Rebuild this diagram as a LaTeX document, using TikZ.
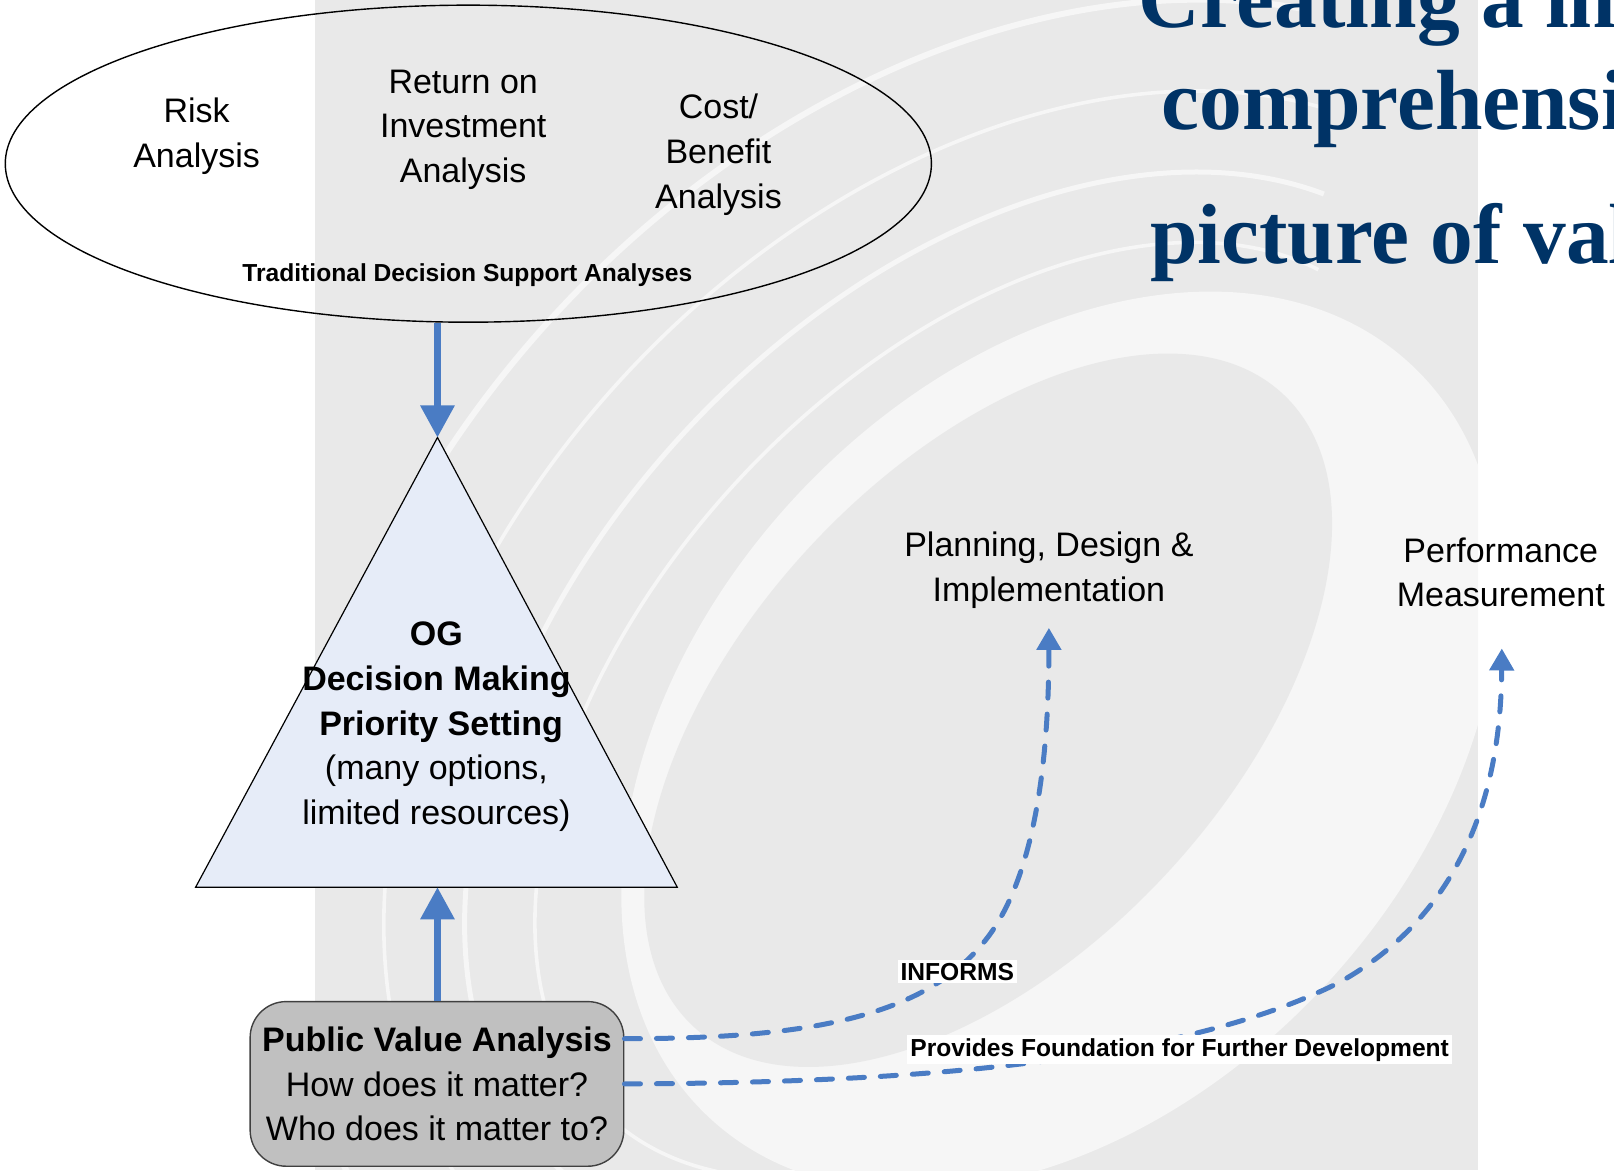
\documentclass[tikz,border=0pt]{standalone}
\usepackage{fontspec}
\setmainfont{Liberation Sans}
\newfontfamily\titlefont{Liberation Serif}
\usetikzlibrary{shapes.geometric,arrows.meta}
\definecolor{bggrey}{RGB}{233,233,233}
\definecolor{ringwhite}{RGB}{246,246,246}
\definecolor{arrowblue}{RGB}{74,124,196}
\definecolor{trifill}{RGB}{230,236,248}
\definecolor{boxfill}{RGB}{192,192,192}
\definecolor{titleblue}{RGB}{0,51,102}
\begin{document}
\begin{tikzpicture}[x=0.5146pt,y=-0.5146pt,
  big/.style={font=\fontsize{17}{22.4}\selectfont, align=center, inner sep=0pt},
  smalllabel/.style={font=\bfseries\fontsize{12.3}{14}\selectfont, fill=white, inner sep=1.5pt},
  solidarrow/.style={draw=arrowblue, line width=3.1pt, -{Triangle[width=16.5pt,length=16pt]}},
  dasharrow/.style={draw=arrowblue, line width=2.5pt, line cap=round, dash pattern=on 8pt off 8pt, -{Triangle[width=12pt,length=11pt]}},
  titletext/.style={anchor=base west, inner sep=0pt, text=titleblue, font=\titlefont\bfseries\fontsize{42.7}{50}\selectfont},
  swirl/.style={draw=white, opacity=0.6}
]
\useasboundingbox (0,0) rectangle (1568,1137);
\clip (0,0) rectangle (1568,1137);

% ---------- background watermark ----------
\begin{scope}
  \clip (306,0) rectangle (1436,1137);
  \fill[bggrey] (306,0) rectangle (1436,1137);
  \fill[ringwhite, rotate around={47:(1030,720)}] (1030,720) ellipse [x radius=500, y radius=350];
  \fill[bggrey, rotate around={47:(960,690)}] (960,690) ellipse [x radius=420, y radius=235];
  \begin{scope}[shift={(960,690)}, rotate=47]
    \draw[swirl, line width=1.8pt] (160:540 and 330) arc[start angle=160, end angle=350, x radius=540, y radius=330];
    \draw[swirl, line width=2.5pt] (160:610 and 400) arc[start angle=160, end angle=345, x radius=610, y radius=400];
    \draw[swirl, line width=1.8pt] (165:690 and 480) arc[start angle=165, end angle=340, x radius=690, y radius=480];
    \draw[swirl, line width=3pt] (170:780 and 570) arc[start angle=170, end angle=335, x radius=780, y radius=570];
  \end{scope}
\end{scope}

% ---------- title ----------
\node[titletext] (ttlA) at (1106,27) {Creating a in};
\node[titletext] (ttlB) at (1128,126) {comprehensi};
\node[titletext] (ttlC) at (1117,256) {picture of val};

% ---------- traditional analyses ----------
\node[draw, ellipse, line width=0.7pt, minimum width=463pt, minimum height=158.5pt, inner sep=0pt] (trad) at (455,159) {};
\node[big] (risk) at (191,132) {Risk\\Analysis};
\node[big] (roi) at (450,126) {Return on\\Investment\\Analysis};
\node[big] (cba) at (698,150) {Cost/\\Benefit\\Analysis};
\node[font=\bfseries\fontsize{12.3}{14}\selectfont, inner sep=0pt] (tdsa) at (454,267) {Traditional Decision Support Analyses};

% ---------- triangle ----------
\coordinate (apex) at (425,425);
\coordinate (bl) at (190,862);
\coordinate (br) at (658,862);
\coordinate (basemid) at (425,862);
\draw[fill=trifill, line width=0.6pt] (apex) -- (br) -- (bl) -- cycle;
\node[big] (og) at (424,706) {\textbf{OG}\\\textbf{Decision Making}\\\textbf{\hspace*{4.7pt}Priority Setting}\\(many options,\\limited resources)};

% ---------- public value box ----------
\node[draw=black!75, fill=boxfill, rounded corners=18pt, minimum width=186.8pt, minimum height=82.3pt, line width=0.7pt, big] (pva) at (424.5,1053) {\textbf{Public Value Analysis}\\How does it matter?\\Who does it matter to?};

% ---------- solid arrows ----------
\draw[solidarrow] (apex |- trad.south) -- (apex);
\draw[solidarrow] (pva.north -| basemid) -- (basemid);

% ---------- right side targets ----------
\node[big] (plan) at (1019,554) {Planning, Design \&\\Implementation};
\node[big] (perf) at (1458,556) {Performance\\Measurement};
\coordinate (planin) at (1019,610);
\coordinate (perfin) at (1459,630);

% ---------- dashed arrows ----------
\draw[dasharrow] ([yshift=22.6pt]pva.east) .. controls (780,1009) and (900,990) .. (960,910)
  .. controls (1005,850) and (1019,740) .. (planin);
\draw[dasharrow] (pva.east) .. controls (900,1052) and (1150,1030) .. (1300,955)
  .. controls (1400,900) and (1458,800) .. (perfin);

\node[smalllabel] (informs) at (930,944) {INFORMS};
\node[smalllabel] (pffd) at (1146,1020) {Provides Foundation for Further Development};
\end{tikzpicture}
\end{document}
